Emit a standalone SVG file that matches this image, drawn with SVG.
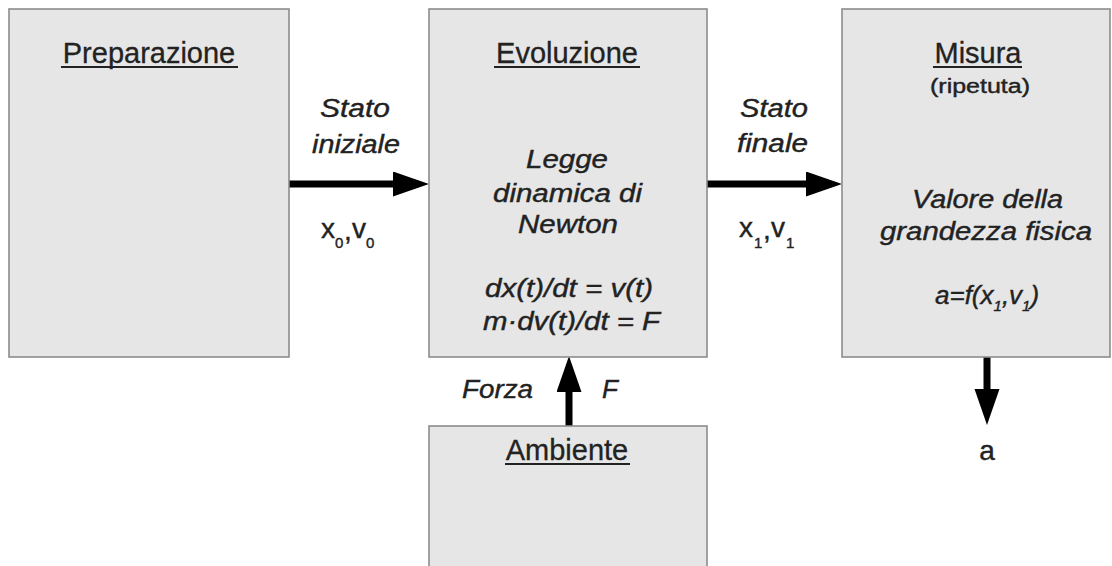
<svg xmlns="http://www.w3.org/2000/svg" width="1112" height="566" viewBox="0 0 1112 566">
<defs>
<style>
.box{fill:#e6e6e6;stroke:#8c8c8c;stroke-width:1.6}
.hd{font-family:"Liberation Sans",Arial,sans-serif;font-size:29px;fill:#222;text-anchor:middle;stroke:#222;stroke-width:0.3}
.ul{stroke:#222;stroke-width:2}
.it{font-family:"Liberation Sans",Arial,sans-serif;font-style:italic;font-size:25px;fill:#222;stroke:#222;stroke-width:0.4}
.up{font-family:"Liberation Sans",Arial,sans-serif;font-size:28px;fill:#222;stroke:#222;stroke-width:0.4}
.sub{font-size:15px}
.c{stroke:#000;stroke-width:7;fill:none}
</style>
<marker id="ah" markerUnits="userSpaceOnUse" markerWidth="37" markerHeight="26" refX="36" refY="12.5" orient="auto" viewBox="0 0 37 26">
<path d="M0,0 L36,12.5 L0,25 z" fill="#000"/>
</marker>
</defs>
<rect width="1112" height="566" fill="#fff"/>
<g id="connectors">
<path class="c" d="M289,184 H400"/>
<line x1="394" y1="184" x2="429" y2="184" stroke="none" marker-end="url(#ah)"/>
<path class="c" d="M707,184 H810"/>
<line x1="803" y1="184" x2="842" y2="184" stroke="none" marker-end="url(#ah)"/>
<path class="c" d="M987,357 V395"/>
<line x1="987" y1="390" x2="987" y2="425" stroke="none" marker-end="url(#ah)"/>
<path class="c" d="M569,426 V388"/>
<line x1="569" y1="395" x2="569" y2="356" stroke="none" marker-end="url(#ah)"/>
</g>
<g id="preparazione">
<rect class="box" x="9" y="9" width="280" height="348"/>
<text class="hd" x="149" y="63">Preparazione</text>
<line class="ul" x1="61" y1="67" x2="238" y2="67"/>
</g>
<g id="evoluzione">
<rect class="box" x="429" y="9" width="278" height="348"/>
<text class="hd" x="567" y="63">Evoluzione</text>
<line class="ul" x1="494" y1="67" x2="640" y2="67"/>
<text class="it" x="526" y="168" textLength="82" lengthAdjust="spacingAndGlyphs">Legge</text>
<text class="it" x="493" y="202" textLength="149" lengthAdjust="spacingAndGlyphs">dinamica di</text>
<text class="it" x="518" y="233" textLength="100" lengthAdjust="spacingAndGlyphs">Newton</text>
<text class="it" x="485" y="297" textLength="168" lengthAdjust="spacingAndGlyphs">dx(t)/dt = v(t)</text>
<text class="it" x="483" y="330" textLength="177" lengthAdjust="spacingAndGlyphs">m·dv(t)/dt = F</text>
</g>
<g id="misura">
<rect class="box" x="842" y="9" width="268" height="348"/>
<text class="hd" x="978" y="63">Misura</text>
<line class="ul" x1="933" y1="67" x2="1022" y2="67"/>
<text class="up" x="930" y="93" style="font-size:20px" textLength="100" lengthAdjust="spacingAndGlyphs">(ripetuta)</text>
<text class="it" x="912" y="208" textLength="151" lengthAdjust="spacingAndGlyphs">Valore della</text>
<text class="it" x="880" y="240" textLength="212" lengthAdjust="spacingAndGlyphs">grandezza fisica</text>
<text class="it" x="935" y="304" style="font-size:26px">a=f(x<tspan class="sub" dy="7">1</tspan><tspan dy="-7">,v</tspan><tspan class="sub" dy="7">1</tspan><tspan dy="-7">)</tspan></text>
</g>
<g id="ambiente">
<rect class="box" x="429" y="426" width="278" height="150"/>
<text class="hd" x="567" y="460">Ambiente</text>
<line class="ul" x1="505" y1="464" x2="630" y2="464"/>
</g>
<g id="labels">
<text class="it" x="320" y="117" textLength="70" lengthAdjust="spacingAndGlyphs">Stato</text>
<text class="it" x="312" y="153" textLength="88" lengthAdjust="spacingAndGlyphs">iniziale</text>
<text class="up" y="238"><tspan x="321">x</tspan><tspan class="sub" x="335" y="248">0</tspan><tspan x="344" y="240">,</tspan><tspan x="352" y="238">v</tspan><tspan class="sub" x="366" y="248">0</tspan></text>
<text class="it" x="740" y="117" textLength="68" lengthAdjust="spacingAndGlyphs">Stato</text>
<text class="it" x="737" y="152" textLength="71" lengthAdjust="spacingAndGlyphs">finale</text>
<text class="up" y="237"><tspan x="739">x</tspan><tspan class="sub" x="754" y="248">1</tspan><tspan x="763" y="239">,</tspan><tspan x="771" y="237">v</tspan><tspan class="sub" x="786" y="248">1</tspan></text>
<text class="it" x="462" y="398" textLength="71" lengthAdjust="spacingAndGlyphs">Forza</text>
<text class="it" x="602" y="398" style="font-size:26px">F</text>
<text class="up" x="987" y="460" text-anchor="middle" style="font-size:28px">a</text>
</g>
</svg>
